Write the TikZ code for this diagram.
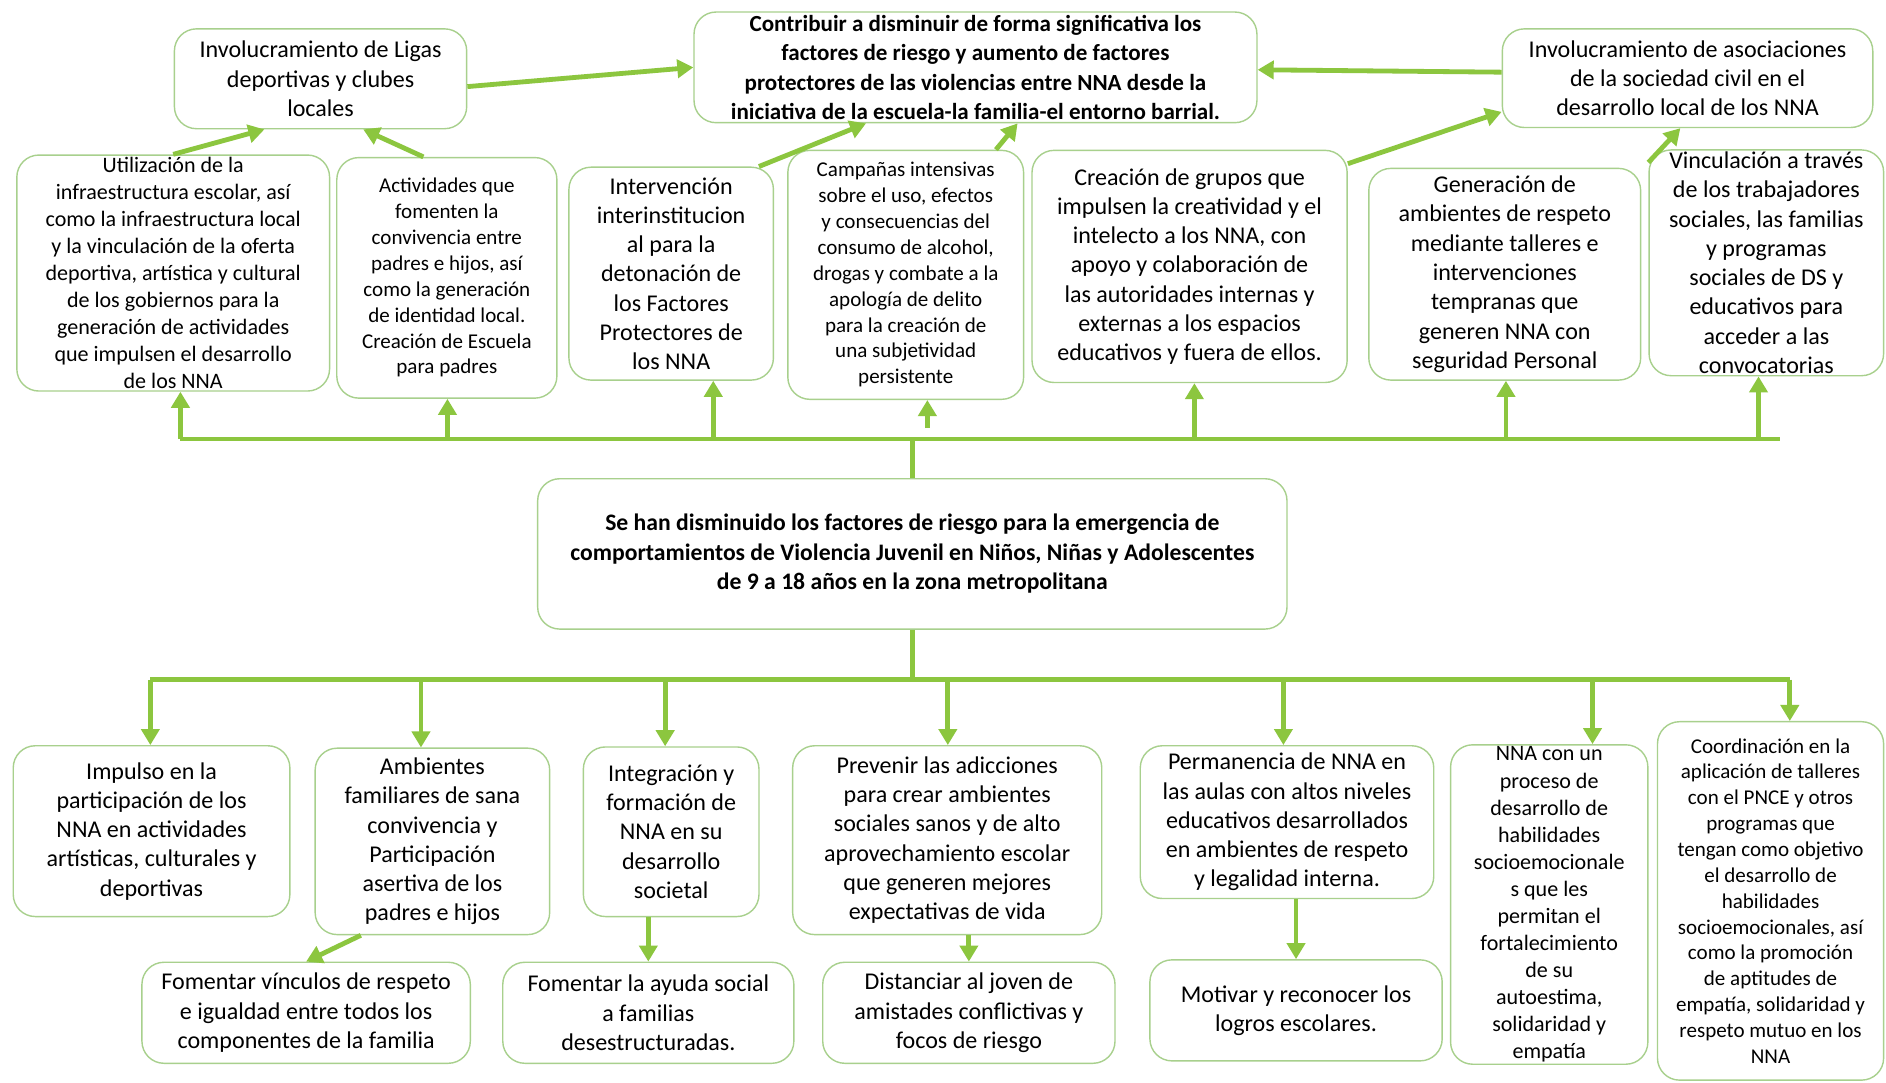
\documentclass[tikz,border=0pt]{standalone}
\usepackage{fontspec}
\setmainfont{Carlito}
\usetikzlibrary{arrows.meta}
\definecolor{verdeflecha}{RGB}{140,198,63}
\definecolor{verdeborde}{RGB}{168,208,141}

\begin{document}
\begin{tikzpicture}[x=0.6pt, y=-0.6pt,
  caja/.style={draw=verdeborde, line width=0.7pt, rounded corners=11pt, fill=white, align=center, inner sep=1pt},
  flecha/.style={color=verdeflecha, line width=2.4pt, -{Triangle[width=9pt,length=8pt]}},
  linea/.style={draw=verdeflecha, line width=2.4pt},
  t12/.style={font=\fontsize{12}{14.6}\selectfont},
  t11/.style={font=\fontsize{11}{13.5}\selectfont},
  t10/.style={font=\fontsize{10.5}{12.9}\selectfont},
  tb/.style={font=\fontsize{11.8}{14.7}\selectfont\bfseries}]

\useasboundingbox[fill=white] (0,0) rectangle (1568,899.6);

% fila superior
\node[caja, t12, minimum width=145.8pt, minimum height=49.8pt] (ligas) at (266.5,65.5)
  {Involucramiento de Ligas\\deportivas y clubes\\locales};
\node[caja, tb, font=\fontsize{11.5}{14.7}\selectfont\bfseries, minimum width=280.8pt, minimum height=55.2pt] (meta) at (811,56)
  {Contribuir a disminuir de forma significativa los\\factores de riesgo y aumento de factores\\protectores de las violencias entre NNA desde la\\iniciativa de la escuela-la familia-el entorno barrial.};
\node[caja, t12, minimum width=184.8pt, minimum height=49.2pt] (asoc) at (1403,65)
  {Involucramiento de asociaciones\\de la sociedad civil en el\\desarrollo local de los NNA};

% actividades de arriba
\node[caja, t11, minimum width=156pt, minimum height=116.4pt] (util) at (144,227)
  {Utilización de la\\infraestructura escolar, así\\como la infraestructura local\\y la vinculación de la oferta\\deportiva, artística y cultural\\de los gobiernos para la\\generación de actividades\\que impulsen el desarrollo\\de los NNA};
\node[caja, t10, minimum width=109.8pt, minimum height=120pt] (activ) at (371.5,231)
  {Actividades que\\fomenten la\\convivencia entre\\padres e hijos, así\\como la generación\\de identidad local.\\Creación de Escuela\\para padres};
\node[caja, t12, minimum width=102pt, minimum height=106.2pt] (interv) at (558,227.5)
  {Intervención\\interinstitucion\\al para la\\detonación de\\los Factores\\Protectores de\\los NNA};
\node[caja, t10, minimum width=117.6pt, minimum height=124.2pt] (camp) at (753,228.5)
  {Campañas intensivas\\sobre el uso, efectos\\y consecuencias del\\consumo de alcohol,\\drogas y combate a la\\apología de delito\\para la creación de\\una subjetividad\\persistente};
\node[caja, t12, minimum width=157.2pt, minimum height=115.8pt] (grupos) at (989,221.5)
  {Creación de grupos que\\impulsen la creatividad y el\\intelecto a los NNA, con\\apoyo y colaboración de\\las autoridades internas y\\externas a los espacios\\educativos y fuera de ellos.};
\node[caja, t12, minimum width=135.6pt, minimum height=105.6pt] (respeto) at (1251,228)
  {Generación de\\ambientes de respeto\\mediante talleres e\\intervenciones\\tempranas que\\generen NNA con\\seguridad Personal};
\node[caja, t12, minimum width=117pt, minimum height=112.2pt] (vinc) at (1468.5,218.5)
  {Vinculación a través\\de los trabajadores\\sociales, las familias\\y programas\\sociales de DS y\\educativos para\\acceder a las\\convocatorias};

% propósito
\node[caja, tb, minimum width=373.8pt, minimum height=75pt] (centro) at (758.5,460.5)
  {Se han disminuido los factores de riesgo para la emergencia de\\comportamientos de Violencia Juvenil en Niños, Niñas y Adolescentes\\de 9 a 18 años en la zona metropolitana};

% fila inferior
\node[caja, t12, minimum width=138pt, minimum height=85.2pt] (impulso) at (126,691)
  {Impulso en la\\participación de los\\NNA en actividades\\artísticas, culturales y\\deportivas};
\node[caja, t12, minimum width=117pt, minimum height=93pt] (familia) at (359.5,699.5)
  {Ambientes\\familiares de sana\\convivencia y\\Participación\\asertiva de los\\padres e hijos};
\node[caja, t12, minimum width=87.6pt, minimum height=84.6pt] (integra) at (558,691.5)
  {Integración y\\formación de\\NNA en su\\desarrollo\\societal};
\node[caja, t12, minimum width=154.2pt, minimum height=94.2pt] (adicc) at (787.5,698.5)
  {Prevenir las adicciones\\para crear ambientes\\sociales sanos y de alto\\aprovechamiento escolar\\que generen mejores\\expectativas de vida};
\node[caja, t12, minimum width=146.4pt, minimum height=76.2pt] (aulas) at (1070,683.5)
  {Permanencia de NNA en\\las aulas con altos niveles\\educativos desarrollados\\en ambientes de respeto\\y legalidad interna.};
\node[caja, t11, minimum width=98.4pt, minimum height=158.4pt] (habil) at (1288,752)
  {NNA con un\\proceso de\\desarrollo de\\habilidades\\socioemocionale\\s que les\\permitan el\\fortalecimiento\\de su\\autoestima,\\solidaridad y\\empatía};
\node[caja, t10, minimum width=112.8pt, minimum height=178.8pt] (coord) at (1472,749)
  {Coordinación en la\\aplicación de talleres\\con el PNCE y otros\\programas que\\tengan como objetivo\\el desarrollo de\\habilidades\\socioemocionales, así\\como la promoción\\de aptitudes de\\empatía, solidaridad y\\respeto mutuo en los\\NNA};

\node[caja, t12, minimum width=163.8pt, minimum height=50.4pt] (vinculos) at (254.5,842)
  {Fomentar vínculos de respeto\\e igualdad entre todos los\\componentes de la familia};
\node[caja, t12, minimum width=145.2pt, minimum height=50.4pt] (ayuda) at (539,842)
  {Fomentar la ayuda social\\a familias\\desestructuradas.};
\node[caja, t12, minimum width=145.8pt, minimum height=50.4pt] (amigos) at (805.5,842)
  {Distanciar al joven de\\amistades conflictivas y\\focos de riesgo};
\node[caja, t12, minimum width=145.8pt, minimum height=50.4pt] (logros) at (1077.5,840)
  {Motivar y reconocer los\\logros escolares.};

% puntos de las barras
\coordinate (tronco1) at (758.5,365);
\coordinate (s1) at (150,365);
\coordinate (s2) at (372,365);
\coordinate (s3) at (593,365);
\coordinate (s4) at (771,356);
\coordinate (s5) at (993,365);
\coordinate (s6) at (1252,365);
\coordinate (s7) at (1462,365);
\coordinate (s8) at (1480,365);
\coordinate (tronco2) at (758.5,565);
\coordinate (b1) at (125,565);
\coordinate (b2) at (350,565);
\coordinate (b3) at (553,565);
\coordinate (b4) at (788,565);
\coordinate (b5) at (1067,565);
\coordinate (b6) at (1324,565);
\coordinate (b7) at (1488,565);

\draw[linea] (centro.north) -- (tronco1);
\draw[linea] (s1) -- (s8);
\draw[linea] (centro.south) -- (tronco2);
\draw[linea] (b1) -- (b7);

\path[flecha] (s1) edge (s1 |- util.south)
              (s2) edge (s2 |- activ.south)
              (s3) edge (s3 |- interv.south)
              (s4) edge (s4 |- camp.south)
              (s5) edge (s5 |- grupos.south)
              (s6) edge (s6 |- respeto.south)
              (s7) edge (s7 |- vinc.south);

\path[flecha] (util.north) edge ([xshift=-28pt]ligas.south)
              ([xshift=-11.7pt]activ.north) edge ([xshift=21.3pt]ligas.south)
              ([yshift=-3.9pt]ligas.east) edge (meta.west)
              ([xshift=43.8pt]interv.north) edge ([xshift=-54.6pt]meta.south)
              ([xshift=45pt]camp.north) edge ([xshift=21pt]meta.south)
              ([yshift=-7pt]grupos.north east) edge ([yshift=-16.8pt]asoc.west)
              ([yshift=-6.6pt]vinc.north west) edge ([xshift=-3.6pt]asoc.south)
              ([yshift=3pt]asoc.west) edge ([yshift=-1.2pt]meta.east);

\path[flecha] (b1) edge (b1 |- impulso.north)
              (b2) edge (b2 |- familia.north)
              (b3) edge (b3 |- integra.north)
              (b4) edge (b4 |- adicc.north)
              (b5) edge (b5 |- aulas.north)
              (b6) edge (b6 |- habil.north)
              (b7) edge (b7 |- coord.north);

\path[flecha] ([xshift=-35.7pt]familia.south) edge (vinculos.north)
              (integra.south -| ayuda.north) edge (ayuda.north)
              (adicc.south -| amigos.north) edge (amigos.north)
              (aulas.south -| logros.north) edge (logros.north);

\end{tikzpicture}
\end{document}
